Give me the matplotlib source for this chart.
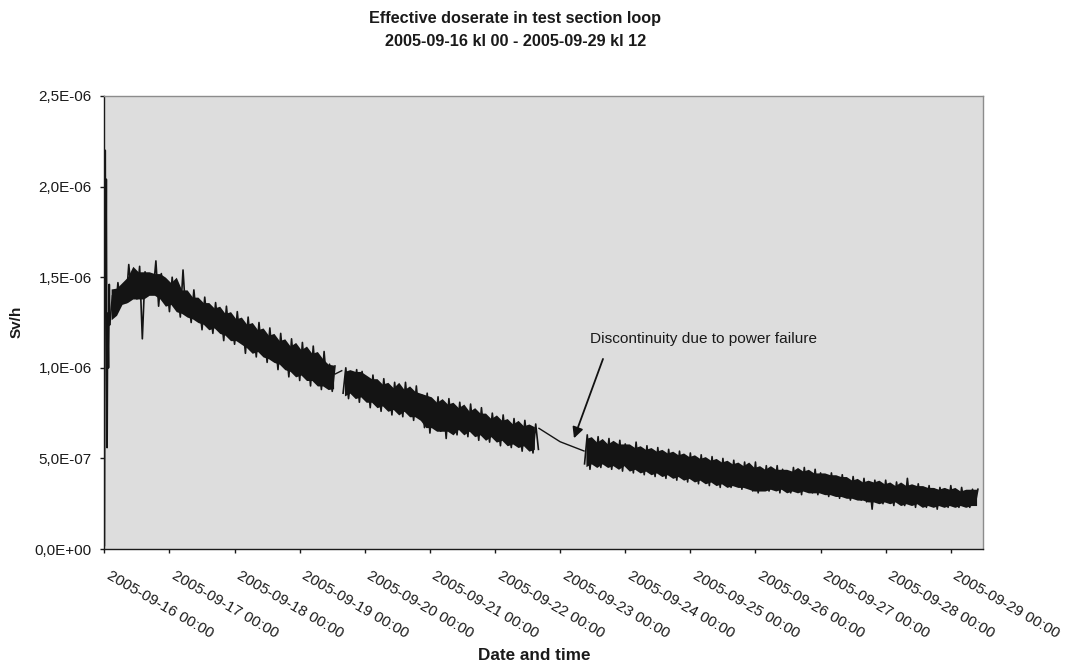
import datetime as dt

import matplotlib
matplotlib.use("Agg")
import matplotlib.dates as mdates
import matplotlib.pyplot as plt
import numpy as np
import pandas as pd
from matplotlib.ticker import FuncFormatter

START = dt.datetime(2005, 9, 16)
END = dt.datetime(2005, 9, 29, 12)
SCALE = 1e-8  # readings below are in 1e-8 Sv/h

# start-up transient, hours after 2005-09-16 00:00
startup_hours = [0.0, 0.3, 0.5, 0.7, 0.9, 1.0, 1.2, 1.5, 1.8, 2.0]
startup_values = [2, 220, 135, 204, 98, 56, 130, 100, 146, 124]

# hourly readings, alternating dip / peak
run1_start = 2
run1_values = [
    124, 140, 129, 147, 135, 144, 136, 157, 141, 150, 138, 156, 116, 153, 140, 149,
    142, 159, 134, 152, 138, 147, 131, 150, 135, 143, 128, 154, 130, 139, 125, 143,
    127, 136, 121, 139, 124, 133, 119, 136, 122, 130, 115, 134, 118, 127, 113, 131,
    115, 124, 108, 128, 111, 121, 106, 125, 109, 118, 103, 122, 105, 115, 99, 119,
    102, 112, 95, 116, 98, 110, 93, 114, 96, 108, 90, 112, 93, 105, 88, 109,
    90, 102, 87, 101,
]
run2_start = 88
run2_values = [
    86, 100, 83, 96, 87, 99, 81, 98, 84, 94, 78, 96, 81, 91, 76, 94,
    79, 89, 74, 92, 77, 88, 73, 92, 76, 87, 71, 90, 73, 85, 67, 86,
    64, 81, 69, 84, 65, 80, 61, 83, 68, 78, 63, 81, 66, 76, 62, 80,
    65, 75, 60, 78, 63, 72, 59, 75, 62, 71, 57, 74, 60, 69, 56, 72,
    58, 68, 54, 71, 57, 66, 53, 69, 55,
]
run3_start = 177
run3_values = [
    47, 63, 44, 59, 48, 62, 45, 58, 47, 61, 44, 57, 46, 60, 43, 58,
    46, 56, 42, 59, 44, 55, 41, 57, 43, 54, 40, 56, 42, 53, 39, 55,
    41, 52, 38, 54, 40, 51, 37, 53, 39, 50, 36, 52, 38, 49, 35, 51,
    37, 48, 34, 50, 36, 47, 34, 49, 35, 46, 33, 48, 34, 45, 32, 48,
    31, 44, 34, 46, 32, 43, 33, 46, 31, 44, 33, 42, 31, 45, 32, 43,
    30, 45, 32, 42, 31, 44, 30, 42, 31, 41, 29, 42, 30, 40, 28, 41,
    29, 38, 27, 40, 28, 37, 27, 39, 26, 37, 22, 38, 27, 36, 25, 38,
    26, 35, 24, 37, 26, 34, 24, 39, 25, 35, 23, 36, 25, 34, 23, 35,
    24, 33, 22, 34, 24, 33, 23, 35, 24, 32, 23, 34, 24, 32, 23, 33,
    25, 33,
]

# stretches without readings, drawn as plain lines
short_gap_hours = [85.1, 87.5]
short_gap_values = [96.6, 98.4]
power_gap_hours = [160.2, 168.0, 176.8]
power_gap_values = [66.6, 59.2, 54.1]

note_text = "Discontinuity due to power failure"
note_tip = (173.1, 61.1)
note_tail = (183.8, 104.9)
note_text_at = (178.9, 115.9)


def to_time(hours):
    return [START + dt.timedelta(hours=float(h)) for h in hours]


def to_sv(values):
    return np.asarray(values, dtype=float) * SCALE


plt.rcParams["font.family"] = ["Liberation Sans", "DejaVu Sans"]
ink = "#1a1a1a"
trace = "#141414"

fig = plt.figure(figsize=(10.67, 6.68), dpi=100)
ax = fig.add_axes([0.0978, 0.1781, 0.8238, 0.6782])
ax.set_facecolor("#dddddd")

ax.plot(to_time(startup_hours), to_sv(startup_values), color=trace, linewidth=1.3)
for first_hour, values in [(run1_start, run1_values),
                           (run2_start, run2_values),
                           (run3_start, run3_values)]:
    hours = first_hour + np.arange(len(values))
    dips = pd.Series(values[0::2], dtype=float)
    peaks = pd.Series(values[1::2], dtype=float)
    n = min(len(dips), len(peaks))
    # solid core of the trace: typical dip to typical peak around each hour
    core_low = dips.rolling(3, center=True, min_periods=1).median()[:n]
    core_high = peaks.rolling(3, center=True, min_periods=1).median()[:n]
    core_hours = hours[0::2][:n] + 0.5
    ax.fill_between(to_time(core_hours), to_sv(core_low), to_sv(core_high),
                    color=trace, linewidth=0)
    ax.plot(to_time(hours), to_sv(values), color=trace, linewidth=1.2)
ax.plot(to_time(short_gap_hours), to_sv(short_gap_values), color=trace, linewidth=1.0)
ax.plot(to_time(power_gap_hours), to_sv(power_gap_values), color=trace, linewidth=1.0)

ax.annotate("", xy=(to_time([note_tip[0]])[0], note_tip[1] * SCALE),
            xytext=(to_time([note_tail[0]])[0], note_tail[1] * SCALE),
            arrowprops=dict(arrowstyle="-|>", color="#111111", lw=1.3,
                            mutation_scale=16, shrinkA=0, shrinkB=0))
ax.text(to_time([note_text_at[0]])[0], note_text_at[1] * SCALE, note_text,
        fontsize=11.1, color=ink, va="center", ha="left")

ax.set_xlim(START, END)
ax.set_ylim(0, 2.5e-6)
ax.set_yticks([i * 5e-7 for i in range(6)])
ax.yaxis.set_major_formatter(FuncFormatter(lambda v, _: f"{v:.1E}".replace(".", ",")))
ax.xaxis.set_major_locator(mdates.DayLocator())
ax.xaxis.set_major_formatter(mdates.DateFormatter("%Y-%m-%d %H:%M"))

ax.tick_params(axis="both", direction="out", length=3, width=1, color=ink,
               labelcolor=ink, labelsize=11)
ax.tick_params(axis="y", pad=6)
ax.tick_params(axis="x", pad=11)
for label in ax.get_xticklabels():
    label.set_rotation(-30)
    label.set_ha("left")
    label.set_va("top")

for side in ("left", "bottom"):
    ax.spines[side].set_color(ink)
    ax.spines[side].set_linewidth(1.0)
for side in ("top", "right"):
    ax.spines[side].set_color("#8c8c8c")
    ax.spines[side].set_linewidth(1.0)

fig.text(0.483, 0.9716, "Effective doserate in test section loop",
         ha="center", va="center", fontsize=11.7, fontweight="bold", color=ink)
fig.text(0.483, 0.9386, "2005-09-16 kl 00 - 2005-09-29 kl 12",
         ha="center", va="center", fontsize=11.7, fontweight="bold", color=ink)
fig.text(0.016, 0.518, "Sv/h", rotation=90, ha="center", va="center",
         fontsize=11, fontweight="bold", color=ink)
fig.text(0.501, 0.018, "Date and time", ha="center", va="center",
         fontsize=12.3, fontweight="bold", color=ink)

fig.savefig("out.png", dpi=100)
